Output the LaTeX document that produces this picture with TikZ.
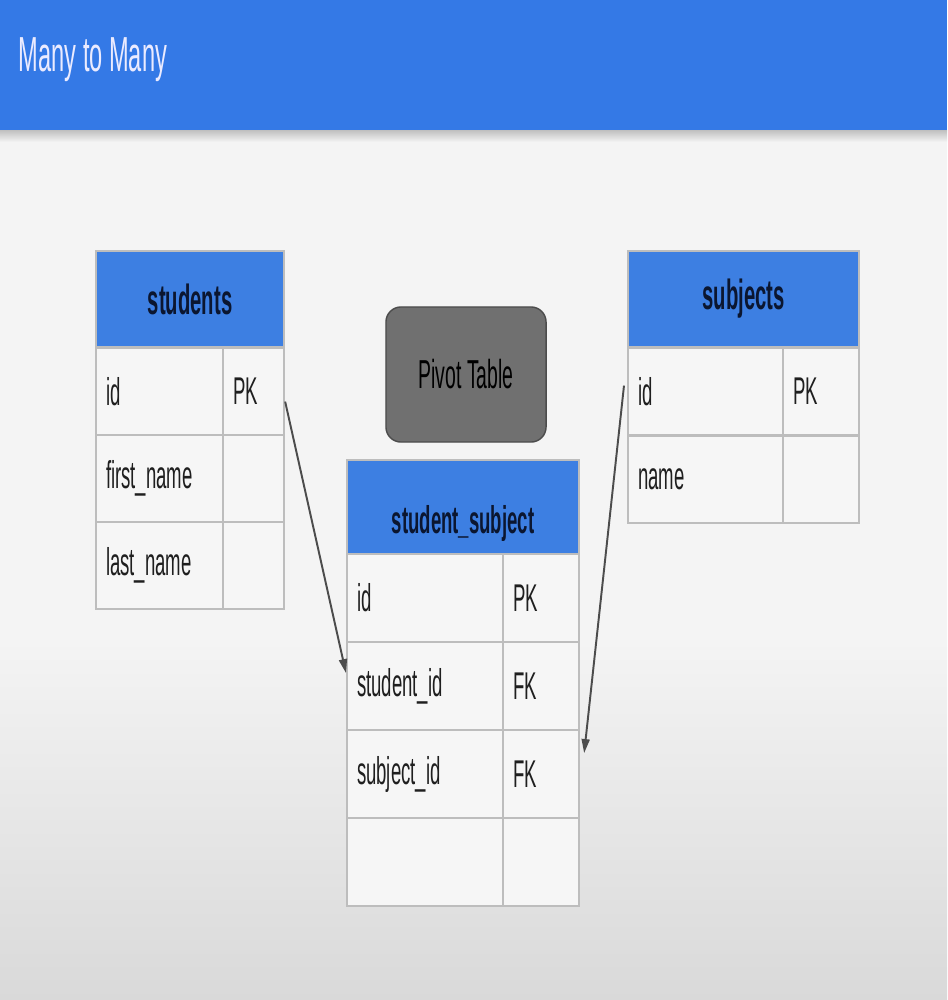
\documentclass[tikz,border=0pt]{standalone}
\usepackage{fontspec}
\setmainfont[FakeStretch=0.48]{Liberation Sans}
\usetikzlibrary{positioning, calc, arrows.meta}

\definecolor{barblue}{HTML}{3479E6}
\definecolor{headblue}{HTML}{3D7FE2}
\definecolor{headtext}{HTML}{0B1630}
\definecolor{cellfill}{HTML}{F6F6F6}
\definecolor{cellline}{HTML}{BDBDBD}
\definecolor{pivotgray}{HTML}{707070}
\definecolor{bgtop}{HTML}{F4F4F4}
\definecolor{bgbottom}{HTML}{D9D9D9}

\tikzset{
    head/.style={draw=cellline, line width=0.6pt, fill=headblue, text=headtext,
        font=\fontsize{12}{14}\selectfont\bfseries, minimum height=0.96cm,
        inner sep=0pt, anchor=north west},
    cell/.style={draw=cellline, line width=0.6pt, fill=cellfill, text=black!88,
        font=\fontsize{11}{13}\selectfont, minimum height=0.87cm,
        inner xsep=0.1cm, inner ysep=0pt, align=left, anchor=north west},
    link/.style={draw=black!70, line width=0.55pt, -{Triangle[length=1.4mm, width=0.8mm]}},
}

\begin{document}
\begin{tikzpicture}[x=0.01cm, y=-0.01cm]
        \useasboundingbox (0,0) rectangle (947,1000);

        % background and title bar
        \fill[bgtop] (0,130) rectangle (947,640);
        \shade[top color=bgtop, bottom color=bgbottom] (0,640) rectangle (947,1000);
        \shade[top color=black!25, bottom color=bgtop] (0,130) rectangle (947,142);
        \fill[barblue] (0,0) rectangle (947,130);
        \node[anchor=west, inner sep=0pt, text=white!92!blue, font=\fontsize{14}{16}\selectfont] (title) at (18,60) {Many to Many};

        % students
        \node[head, minimum width=1.88cm] (students) at (95,250) {students};
        \foreach \i/\name/\key in {0/id/PK, 1/first\_name/, 2/last\_name/} {
            \node[cell, text width=1.07cm] (students-\i) at (95, 347+\i*87) {\name};
            \node[cell, text width=0.41cm] (students-\i-key) at (222, 347+\i*87) {\key};
        }

        % subjects
        \node[head, minimum width=2.31cm] (subjects) at (627,250) {subjects};
        \foreach \i/\name/\key in {0/id/PK, 1/name/} {
            \node[cell, text width=1.35cm] (subjects-\i) at (627, 347+\i*88) {\name};
            \node[cell, text width=0.56cm] (subjects-\i-key) at (782, 347+\i*88) {\key};
        }

        % pivot table
        \node[draw=black!70, fill=pivotgray, rounded corners=0.15cm, minimum width=1.6cm, minimum height=1.35cm,
            text=black, font=\fontsize{11.5}{13}\selectfont] (pivot) at (466,374.5) {Pivot Table};

        \node[head, minimum width=2.32cm, minimum height=0.94cm, text height=0.52cm, text depth=0cm,
            font=\fontsize{11}{13}\selectfont\bfseries] (studsubj) at (346,459) {student\_subject};
        \foreach \i/\name/\key in {0/id/PK, 1/student\_id/FK, 2/subject\_id/FK, 3//} {
            \node[cell, text width=1.36cm, minimum height=0.88cm] (studsubj-\i) at (346, 553+\i*88) {\name};
            \node[cell, text width=0.56cm, minimum height=0.88cm] (studsubj-\i-key) at (502, 553+\i*88) {\key};
        }

        \draw[link] ([yshift=-0.1cm]students-0-key.east) -- ([yshift=0.13cm]studsubj-1.west);
        \draw[link] ([xshift=-0.03cm, yshift=0.06cm]subjects-0.west) -- ([xshift=0.04cm, yshift=0.21cm]studsubj-2-key.east);
\end{tikzpicture}
\end{document}
